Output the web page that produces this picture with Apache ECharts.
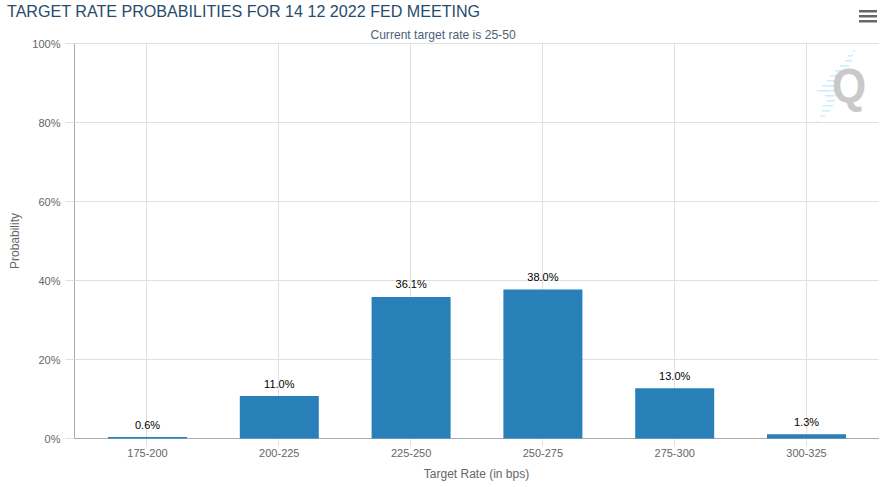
<!DOCTYPE html>
<html><head><meta charset="utf-8">
<style>html,body{margin:0;padding:0;background:#fff}#c{width:884px;height:487px}</style>
<script src="https://cdn.jsdelivr.net/npm/echarts@6/dist/echarts.min.js"></script>
</head><body><div id="c"></div>
<script>
const categories = ['175-200','200-225','225-250','250-275','275-300','300-325'];
const probabilities = [0.6,11.0,36.1,38.0,13.0,1.3];
const font = '"Liberation Sans", Arial, sans-serif';
const positions = categories.map((_, i) => i);
const chart = echarts.init(document.getElementById('c'), null, {renderer:'svg'});
const graphic = [
  {type:'rect',left:859,top:10,shape:{width:18,height:2.5},style:{fill:'#666'}},
  {type:'rect',left:859,top:15,shape:{width:18,height:2.5},style:{fill:'#666'}},
  {type:'rect',left:859,top:20,shape:{width:18,height:2.5},style:{fill:'#666'}}
];
[[853,50,2],[848,55,5],[845,60,7],[840,65,9],[835,70,12],[830,75,10],[827,80,10],[822,85,13],[817,90,18],[825,95,10],[827,100,8],[823,105,10],[822,110,8],[820,115,5],[817,121,2]].forEach(d=>{
  graphic.push({type:'rect',z:1,shape:{x:d[0],y:d[1],width:d[2],height:1.6},style:{fill:'#cdeefb'}});
});
graphic.push({type:'text',x:832,y:61,z:10,scaleY:1.1,style:{text:'Q',fill:'#c9c9c9',font:'bold 44px '+font}});
chart.setOption({
  animation:false,
  backgroundColor:'#fff',
  title:[
    {text:'TARGET RATE PROBABILITIES FOR 14 12 2022 FED MEETING',left:7,top:3,padding:0,textStyle:{fontFamily:font,fontSize:16.1,fontWeight:'normal',color:'#274b6d'}},
    {text:'Current target rate is 25-50',left:443,top:29,padding:0,textAlign:'center',textStyle:{fontFamily:font,fontSize:12.1,fontWeight:'normal',color:'#4d5f7a'}}
  ],
  grid:{left:74.5,right:5.5,top:43.5,bottom:48.5},
  xAxis:[{
    type:'value',min:-0.5455,max:5.5455,
    axisLine:{show:true,onZero:false,lineStyle:{color:'#aaa',width:1}},
    axisTick:{show:true,length:8,customValues:positions,lineStyle:{color:'#e0e0e0'}},
    axisLabel:{show:false,customValues:positions},
    splitLine:{show:true,lineStyle:{color:'#e0e0e0',width:1}}
  },{
    type:'value',position:'bottom',min:-0.5539,max:5.5463,
    name:'Target Rate (in bps)',nameLocation:'middle',nameGap:29,
    nameTextStyle:{fontFamily:font,fontSize:12,color:'#666'},
    axisLine:{show:false},axisTick:{show:false},splitLine:{show:false},
    axisLabel:{fontFamily:font,fontSize:11,color:'#666',margin:9,customValues:positions,formatter:v=>categories[Math.round(v)]}
  }],
  yAxis:[{
    type:'value',min:0,max:100,interval:20,
    name:'Probability',nameLocation:'middle',nameGap:48,nameRotate:90,
    nameTextStyle:{fontFamily:font,fontSize:12,color:'#666'},
    axisLine:{show:true,onZero:false,lineStyle:{color:'#aaa',width:1}},
    axisTick:{show:true,length:9,lineStyle:{color:'#e0e0e0'}},
    axisLabel:{fontFamily:font,fontSize:11,color:'#666',margin:14,lineHeight:9,formatter:v=>v+'%'},
    splitLine:{show:true,lineStyle:{color:'#e0e0e0',width:1}}
  },{
    type:'value',show:false,min:0.25,max:100.25
  }],
  series:[{
    type:'bar',xAxisIndex:1,yAxisIndex:1,barWidth:79,
    data:positions.map(i=>[i,probabilities[i]]),
    itemStyle:{color:'#2980b9'},
    label:{show:true,position:'top',distance:7,fontFamily:font,fontSize:11,color:'#000',formatter:p=>p.value[1].toFixed(1)+'%'}
  }],
  graphic:graphic
});
</script></body></html>
